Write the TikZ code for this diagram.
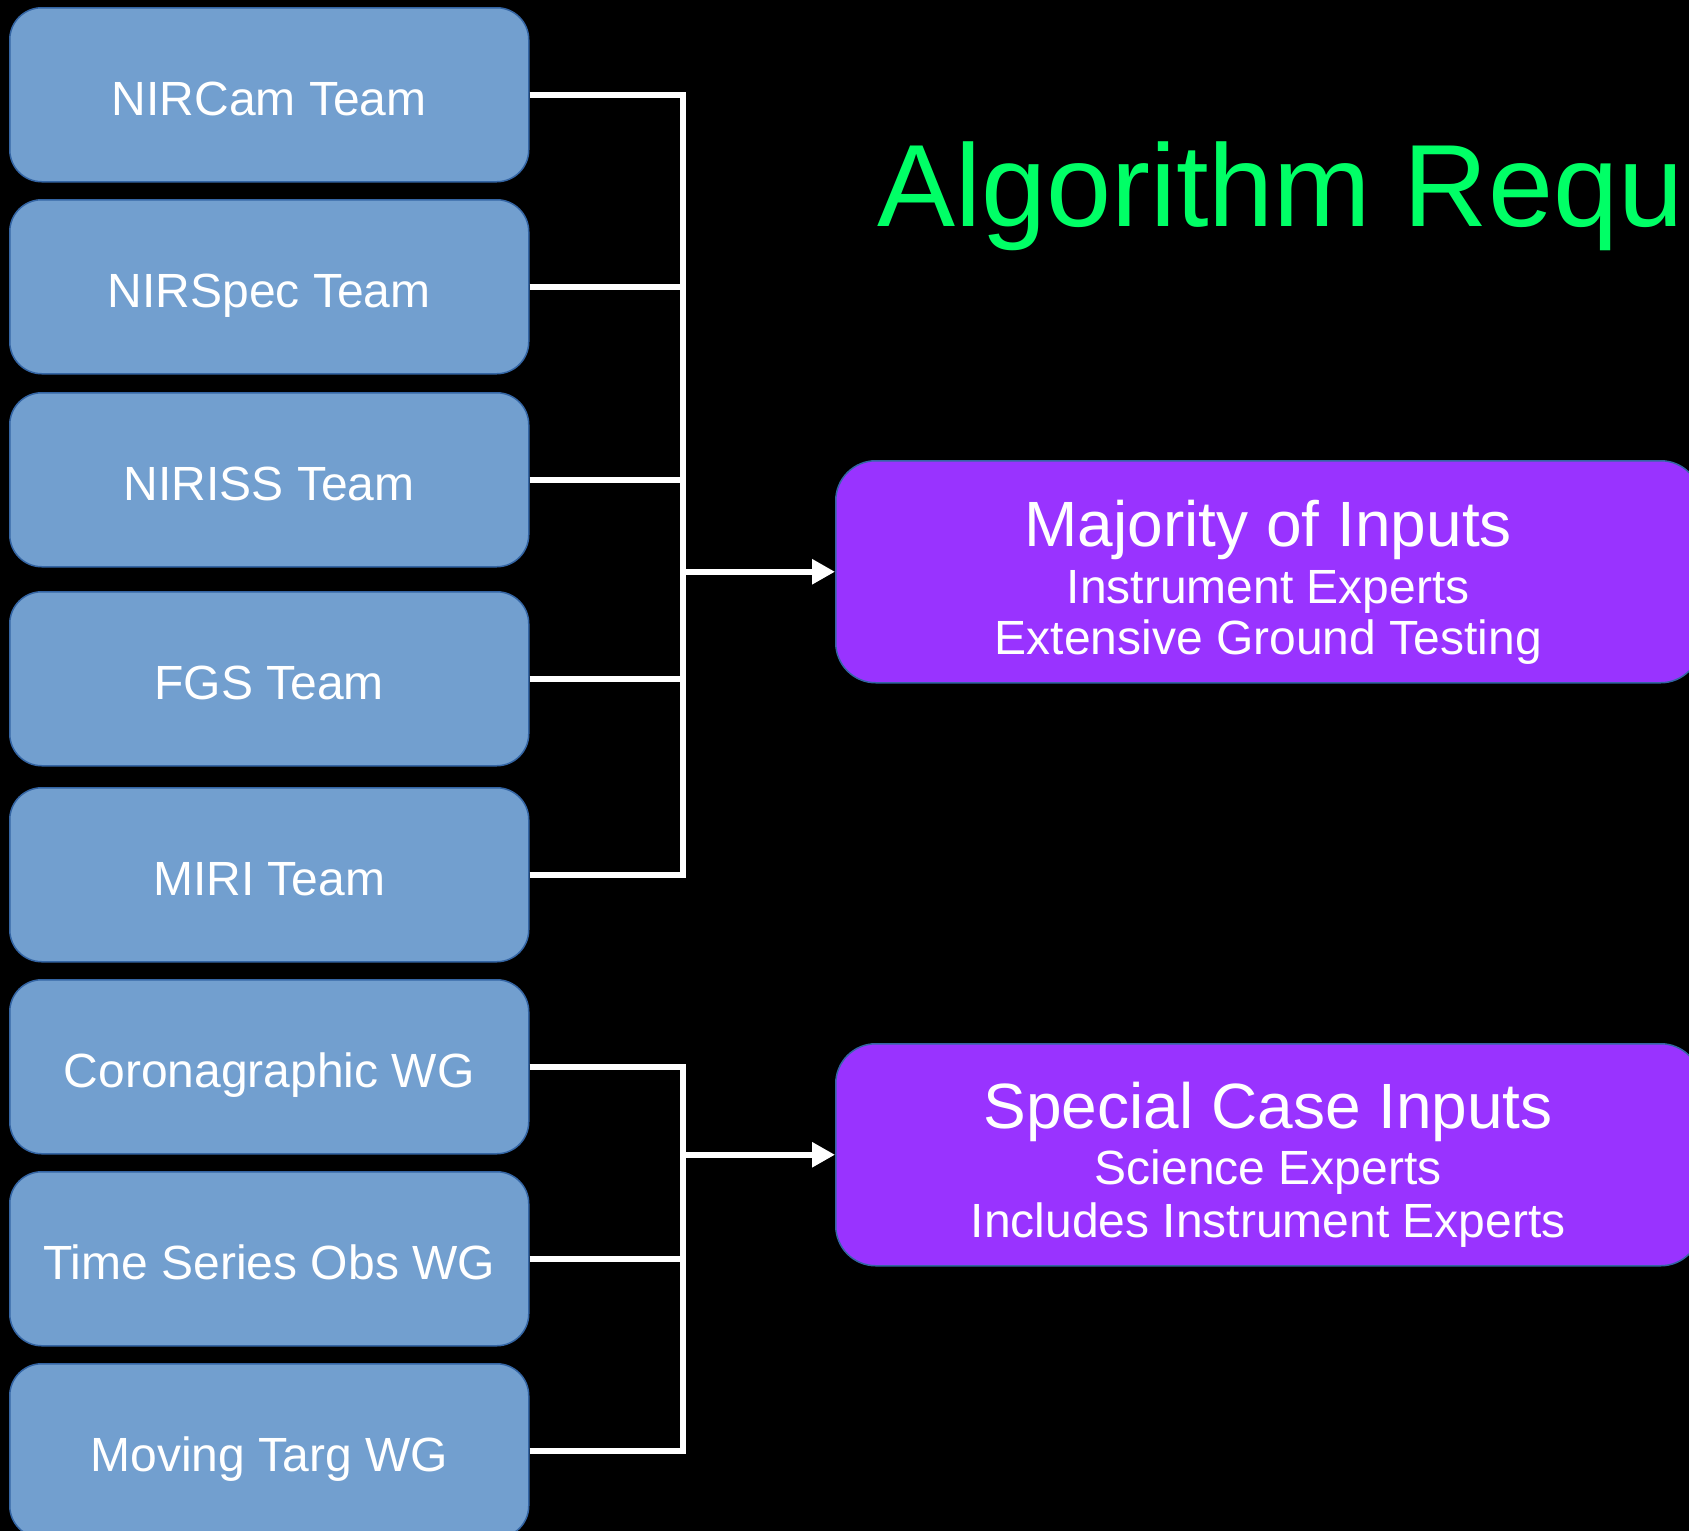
\documentclass[tikz,border=0pt]{standalone}
\usepackage{fontspec}
\setmainfont{Liberation Sans}
\usetikzlibrary{arrows.meta,calc}
\definecolor{boxblue}{HTML}{729FCF}
\definecolor{boxedge}{HTML}{3465A4}
\definecolor{boxpurple}{HTML}{9933FF}
\definecolor{titlegreen}{HTML}{00FF66}
\tikzset{
  teambox/.style={draw=boxedge, line width=1.5pt, fill=boxblue, rounded corners=32pt,
    minimum width=519pt, minimum height=174pt, inner sep=0pt, anchor=north west,
    text=white, font=\fontsize{48}{57}\selectfont, text height=42pt, text depth=0pt},
  inbox/.style={draw=boxedge, line width=1.5pt, fill=boxpurple, rounded corners=40pt,
    minimum width=865pt, minimum height=222pt, inner sep=0pt, anchor=north west},
  headtext/.style={anchor=base, inner sep=0pt, text=white, font=\fontsize{64}{70}\selectfont},
  subtext/.style={anchor=base, inner sep=0pt, text=white, font=\fontsize{48}{57}\selectfont},
  conn/.style={draw=white, line width=6.5pt},
  arrowconn/.style={conn, -{Triangle[length=23pt,width=24pt]}},
}
\begin{document}
\begin{tikzpicture}[x=1pt,y=-1pt]
\useasboundingbox (0,0) rectangle (1689,1531);
\fill[black] (0,0) rectangle (1689,1531);
\clip (0,0) rectangle (1689,1531);

% title
\node[anchor=base west, inner sep=0pt, text=titlegreen, font=\fontsize{117}{130}\selectfont]
  (title) at (877,226) {Algorithm Requ};

% team boxes
\node[teambox] (t1) at (9,7)    {NIRCam Team};
\node[teambox] (t2) at (9,199)  {NIRSpec Team};
\node[teambox] (t3) at (9,392)  {NIRISS Team};
\node[teambox] (t4) at (9,591)  {FGS Team};
\node[teambox] (t5) at (9,787)  {MIRI Team};
\node[teambox] (t6) at (9,979)  {Coronagraphic WG};
\node[teambox] (t7) at (9,1171) {Time Series Obs WG};
\node[teambox] (t8) at (9,1363) {Moving Targ WG};

% input boxes
\node[inbox] (maj) at (835,460) {};
\node[headtext] (majA) at ($(maj.north)+(0,86)$)  {Majority of Inputs};
\node[subtext]  (majB) at ($(maj.north)+(0,143)$) {Instrument Experts};
\node[subtext]  (majC) at ($(maj.north)+(0,194)$) {Extensive Ground Testing};

\node[inbox] (spc) at (835,1043) {};
\node[headtext] (spcA) at ($(spc.north)+(0,85)$)  {Special Case Inputs};
\node[subtext]  (spcB) at ($(spc.north)+(0,141)$) {Science Experts};
\node[subtext]  (spcC) at ($(spc.north)+(0,194)$) {Includes Instrument Experts};

% junctions
\coordinate (j1) at ($(maj.west)+(-152,0)$);
\coordinate (j2) at ($(spc.west)+(-152,0)$);

% connectors
\foreach \t in {t1,t2,t3,t4,t5} \draw[conn] (\t.east) -| (j1);
\draw[arrowconn] (j1) -- (maj.west);
\foreach \t in {t6,t7,t8} \draw[conn] (\t.east) -| (j2);
\draw[arrowconn] (j2) -- (spc.west);
\end{tikzpicture}
\end{document}
